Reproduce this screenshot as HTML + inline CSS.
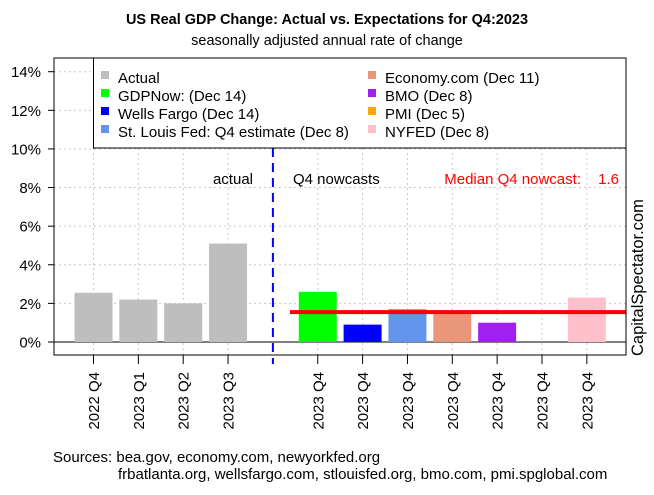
<!DOCTYPE html>
<html><head><meta charset="utf-8"><style>
body{margin:0;background:#fff}
svg{display:block;font-family:"Liberation Sans",Arial,sans-serif}
</style></head><body>
<svg id="chart" width="654" height="495" viewBox="0 0 654 495">
<text x="327" y="24" text-anchor="middle" font-size="14.5" font-weight="bold">US Real GDP Change: Actual vs. Expectations for Q4:2023</text>
<text x="327" y="45" text-anchor="middle" font-size="14.5">seasonally adjusted annual rate of change</text>
<g id="grid"></g>
<g id="bars"></g>
<g id="axes"></g>
<text x="253" y="184" text-anchor="end" font-size="15">actual</text>
<text x="293" y="184" font-size="15">Q4 nowcasts</text>
<text x="581" y="184" text-anchor="end" font-size="15" fill="#ff0000">Median Q4 nowcast:</text>
<text id="medval" x="619" y="184" text-anchor="end" font-size="15" fill="#ff0000">1.6</text>
<text transform="translate(643,356) rotate(-90)" font-size="16.5">CapitalSpectator.com</text>
<g id="legend"></g>
<text x="53" y="462" font-size="15">Sources: bea.gov, economy.com, newyorkfed.org</text>
<text x="118" y="479" font-size="15">frbatlanta.org, wellsfargo.com, stlouisfed.org, bmo.com, pmi.spglobal.com</text>
</svg>
<script>
const categories=["2022 Q4","2023 Q1","2023 Q2","2023 Q3","","2023 Q4","2023 Q4","2023 Q4","2023 Q4","2023 Q4","2023 Q4","2023 Q4"];
const values=[2.55,2.2,2.0,5.1,null,2.6,0.9,1.7,1.6,1.0,null,2.3];
const colors=["#bebebe","#bebebe","#bebebe","#bebebe","none","#00ff00","#0000ff","#6495ed","#e9967a","#a020f0","#ffa500","#ffc0cb"];
const yTicks=[0,2,4,6,8,10,12,14];
const median=1.55;
const legendNames=["Actual","GDPNow: (Dec 14)","Wells Fargo (Dec 14)","St. Louis Fed: Q4 estimate (Dec 8)","Economy.com (Dec 11)","BMO (Dec 8)","PMI (Dec 5)","NYFED (Dec 8)"];
const legendColors=["#bebebe","#00ff00","#0000ff","#6495ed","#e9967a","#a020f0","#ffa500","#ffc0cb"];

const NS="http://www.w3.org/2000/svg";
const L=54,R=626,T=58,B=355;
const y=v=>342-v*(342-71.7)/14;
const x=i=>93.5+i*44.85;
function mk(tag,attrs,parent,text){const e=document.createElementNS(NS,tag);for(const k in attrs)e.setAttribute(k,attrs[k]);if(text!==undefined)e.textContent=text;document.getElementById(parent).appendChild(e);return e;}
yTicks.forEach(t=>{const g=mk('line',{x1:L,x2:R,y1:y(t),y2:y(t),stroke:'#c8c8c8','stroke-dasharray':'2,3'},'grid');


const lb=mk('text',{x:41,y:y(t)+5.5,'text-anchor':'end','font-size':15},'axes',t+'%');


const tk=mk('line',{x1:L-6,x2:L,y1:y(t),y2:y(t),stroke:'#000'},'axes');

});
categories.forEach((c,i)=>{if(i===4)return;const g=mk('line',{x1:x(i),x2:x(i),y1:T,y2:B,stroke:'#c8c8c8','stroke-dasharray':'2,3'},'grid');

});
const z=mk('line',{x1:L,x2:R,y1:y(0),y2:y(0),stroke:'#000'},'grid');


values.forEach((v,i)=>{if(v===null)return;const b=mk('rect',{x:x(i)-19,y:y(v),width:38,height:y(0)-y(v),fill:colors[i]},'bars');

});
const m=mk('line',{x1:290,x2:R,y1:y(median),y2:y(median),stroke:'#ff0000','stroke-width':4},'bars');


document.getElementById('medval').textContent=(Math.round(median*10)/10).toFixed(1);
const d=mk('line',{x1:x(4),x2:x(4),y1:148,y2:B+9,stroke:'#0000ff','stroke-width':2,'stroke-dasharray':'9,6'},'bars');


const f=mk('rect',{x:L,y:T,width:R-L,height:B-T,fill:'none',stroke:'#000'},'axes');


categories.forEach((c,i)=>{const tk=mk('line',{x1:x(i),x2:x(i),y1:B,y2:B+9,stroke:i===4?'none':'#000'},'axes');


if(c){const t=mk('text',{transform:`translate(${x(i)+5.5},372) rotate(-90)`,'text-anchor':'end','font-size':15},'axes',c);

}});
const lr=mk('rect',{x:93.5,y:T,width:R-93.5,height:148-T,fill:'#fff',stroke:'#000'},'legend');


legendNames.forEach((n,i)=>{const col=i<4?0:1,row=i%4;const lx=col?368:101,ly=77+row*18;
const s=mk('rect',{x:lx,y:ly-6,width:8,height:8,fill:legendColors[i]},'legend');


const t=mk('text',{x:lx+17,y:ly+6,'font-size':15},'legend',n);

});
</script>
</body></html>
